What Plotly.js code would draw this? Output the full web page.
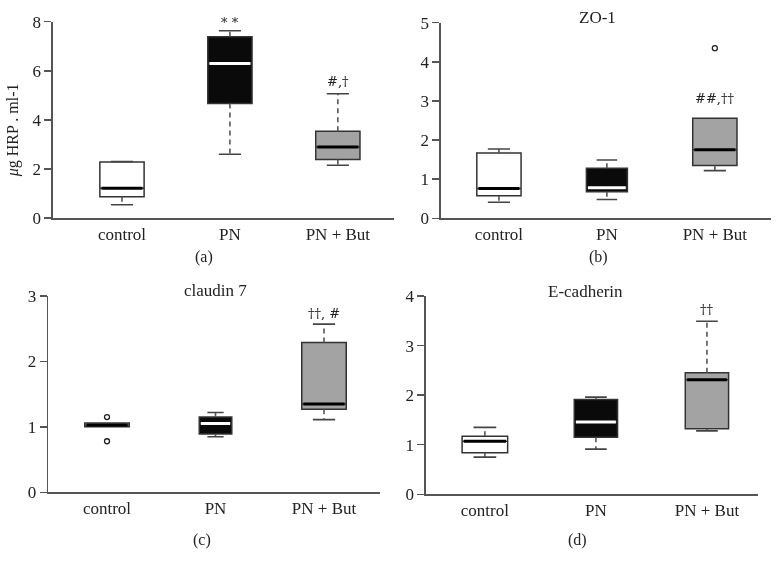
<!DOCTYPE html>
<html>
<head>
<meta charset="utf-8">
<script src="https://cdn.plot.ly/plotly-3.0.1.min.js"></script>
<style>
html,body{margin:0;padding:0;background:#fff;}
#chart{width:782px;height:569px;will-change:transform;}
#chart svg{will-change:transform;}
</style>
</head>
<body>
<div id="chart"></div>
<script>
// ---- data ----
const categories = ["control", "PN", "PN + But"];
const groupFill = ["#ffffff", "#0a0a0a", "#a3a3a3"];
const medianColor = ["#000000", "#ffffff", "#000000"];

// Panel (a) HRP
const hrpMin = [0.54, 2.60, 2.15];
const hrpQ1 = [0.87, 4.67, 2.38];
const hrpMedian = [1.21, 6.30, 2.89];
const hrpQ3 = [2.28, 7.39, 3.53];
const hrpMax = [2.30, 7.63, 5.06];
const hrpOutX = [];
const hrpOutY = [];
const hrpMarks = ["", "* *", "#,†"];
const hrpMarkY = [null, 7.96, 5.55];

// Panel (b) ZO-1
const zoMin = [0.41, 0.48, 1.22];
const zoQ1 = [0.58, 0.68, 1.35];
const zoMedian = [0.76, 0.78, 1.75];
const zoQ3 = [1.67, 1.28, 2.56];
const zoMax = [1.77, 1.49, 2.56];
const zoOutX = [2];
const zoOutY = [4.35];
const zoMarks = ["", "", "##,††"];
const zoMarkY = [null, null, 3.07];

// Panel (c) claudin 7
const clMin = [1.00, 0.85, 1.11];
const clQ1 = [1.00, 0.89, 1.27];
const clMedian = [1.03, 1.05, 1.35];
const clQ3 = [1.06, 1.15, 2.29];
const clMax = [1.06, 1.22, 2.57];
const clOutX = [0, 0];
const clOutY = [1.15, 0.78];
const clMarks = ["", "", "††, #"];
const clMarkY = [null, null, 2.74];

// Panel (d) E-cadherin
const ecMin = [0.75, 0.91, 1.28];
const ecQ1 = [0.84, 1.15, 1.32];
const ecMedian = [1.07, 1.46, 2.31];
const ecQ3 = [1.17, 1.91, 2.45];
const ecMax = [1.35, 1.96, 3.49];
const ecOutX = [];
const ecOutY = [];
const ecMarks = ["", "", "††"];
const ecMarkY = [null, null, 3.72];

// ---- build ----
const panels = [
  {xa: "x", ya: "y", mn: hrpMin, q1: hrpQ1, md: hrpMedian, q3: hrpQ3, mx: hrpMax, ox: hrpOutX, oy: hrpOutY, marks: hrpMarks, markY: hrpMarkY, widths: [0.41, 0.41, 0.41]},
  {xa: "x2", ya: "y2", mn: zoMin, q1: zoQ1, md: zoMedian, q3: zoQ3, mx: zoMax, ox: zoOutX, oy: zoOutY, marks: zoMarks, markY: zoMarkY, widths: [0.41, 0.38, 0.41]},
  {xa: "x3", ya: "y3", mn: clMin, q1: clQ1, md: clMedian, q3: clQ3, mx: clMax, ox: clOutX, oy: clOutY, marks: clMarks, markY: clMarkY, widths: [0.41, 0.30, 0.41]},
  {xa: "x4", ya: "y4", mn: ecMin, q1: ecQ1, md: ecMedian, q3: ecQ3, mx: ecMax, ox: ecOutX, oy: ecOutY, marks: ecMarks, markY: ecMarkY, widths: [0.41, 0.39, 0.39]}
];

const traces = [];
const annotations = [];
const serif = "Liberation Serif, Times New Roman, serif";
const markFont = "DejaVu Serif, serif";

panels.forEach(p => {
  const wx = [], wy = [], cx = [], cy = [];
  for (let i = 0; i < 3; i++) {
    if (p.mx[i] > p.q3[i]) { wx.push(i, i, null); wy.push(p.q3[i], p.mx[i], null); }
    if (p.mn[i] < p.q1[i]) { wx.push(i, i, null); wy.push(p.q1[i], p.mn[i], null); }
    const hw = p.widths[i] / 4;
    if (p.mx[i] > p.q3[i]) { cx.push(i - hw, i + hw, null); cy.push(p.mx[i], p.mx[i], null); }
    if (p.mn[i] < p.q1[i]) { cx.push(i - hw, i + hw, null); cy.push(p.mn[i], p.mn[i], null); }
  }
  traces.push({type: "scatter", mode: "lines", x: wx, y: wy, xaxis: p.xa, yaxis: p.ya,
    line: {color: "#555", width: 1.6, dash: "5px,4px"}, hoverinfo: "skip", showlegend: false});
  traces.push({type: "scatter", mode: "lines", x: cx, y: cy, xaxis: p.xa, yaxis: p.ya,
    line: {color: "#444", width: 1.6}, hoverinfo: "skip", showlegend: false});
  for (let i = 0; i < 3; i++) {
    traces.push({type: "box", x: [i], q1: [p.q1[i]], median: [p.md[i]], q3: [p.q3[i]],
      lowerfence: [p.q1[i]], upperfence: [p.q3[i]], width: p.widths[i], whiskerwidth: 0,
      fillcolor: groupFill[i], line: {color: "#333", width: 1.5}, boxpoints: false,
      xaxis: p.xa, yaxis: p.ya, hoverinfo: "skip", showlegend: false});
    const hw = p.widths[i] / 2 - 0.015;
    traces.push({type: "scatter", mode: "lines", x: [i - hw, i + hw], y: [p.md[i], p.md[i]],
      xaxis: p.xa, yaxis: p.ya, line: {color: medianColor[i], width: 3},
      hoverinfo: "skip", showlegend: false});
    if (p.marks[i]) {
      annotations.push({xref: p.xa, yref: p.ya, x: i, y: p.markY[i], text: p.marks[i],
        xanchor: "center", yanchor: "middle",
        showarrow: false, font: {family: markFont, size: 13, color: "#222"}});
    }
  }
  if (p.ox.length) {
    traces.push({type: "scatter", mode: "markers", x: p.ox, y: p.oy, xaxis: p.xa, yaxis: p.ya,
      marker: {symbol: "circle-open", size: 5, color: "#222", line: {width: 1.3}},
      hoverinfo: "skip", showlegend: false});
  }
});

function xaxisDef(domain, range, anchor) {
  return {domain: domain, range: range, anchor: anchor, tickvals: [0, 1, 2], ticktext: categories,
    showline: true, linecolor: "#555", linewidth: 1.6, ticks: "", showgrid: false, zeroline: false,
    tickfont: {family: serif, size: 17, color: "#222"}, fixedrange: true};
}
function yaxisDef(domain, range, dtick, anchor) {
  return {domain: domain, range: range, anchor: anchor, dtick: dtick, showline: true, linecolor: "#555",
    linewidth: 1.6, ticks: "outside", ticklen: 7, tickwidth: 1.5, tickcolor: "#555",
    showgrid: false, zeroline: false, tickfont: {family: serif, size: 17, color: "#222"}, fixedrange: true};
}

function paperText(x, y, text, size, angle) {
  return {xref: "paper", yref: "paper", x: x, y: y, text: text, textangle: angle || 0,
    xanchor: "center", yanchor: "middle", showarrow: false,
    font: {family: serif, size: size, color: "#222"}};
}

const ann2 = [
  paperText(0.0166, 0.771, "<i>μ</i>g HRP . ml-1", 16, -90),
  paperText(0.764, 0.970, "ZO-1", 17),
  paperText(0.275, 0.489, "claudin 7", 17),
  paperText(0.749, 0.487, "E-cadherin", 17),
  paperText(0.261, 0.548, "(a)", 16),
  paperText(0.765, 0.548, "(b)", 16),
  paperText(0.258, 0.051, "(c)", 16),
  paperText(0.739, 0.051, "(d)", 16)
];

const layout = {
  width: 782, height: 569, margin: {l: 0, r: 0, t: 0, b: 0},
  paper_bgcolor: "#fff", plot_bgcolor: "rgba(0,0,0,0)", showlegend: false,
  xaxis: xaxisDef([0.0678, 0.5038], [-0.639, 2.52], "y"),
  yaxis: yaxisDef([0.6169, 0.9619], [0, 8], 2, "x"),
  xaxis2: xaxisDef([0.5639, 0.9859], [-0.537, 2.52], "y2"),
  yaxis2: yaxisDef([0.6163, 0.9601], [0, 5], 1, "x2"),
  xaxis3: xaxisDef([0.0618, 0.4859], [-0.541, 2.516], "y3"),
  yaxis3: yaxisDef([0.1348, 0.4798], [0, 3], 1, "x3"),
  xaxis4: xaxisDef([0.5448, 0.9689], [-0.53, 2.457], "y4"),
  yaxis4: yaxisDef([0.1313, 0.4798], [0, 4], 1, "x4"),
  annotations: annotations.concat(ann2)
};

Plotly.newPlot("chart", traces, layout, {displayModeBar: false, staticPlot: true});
</script>
</body>
</html>
